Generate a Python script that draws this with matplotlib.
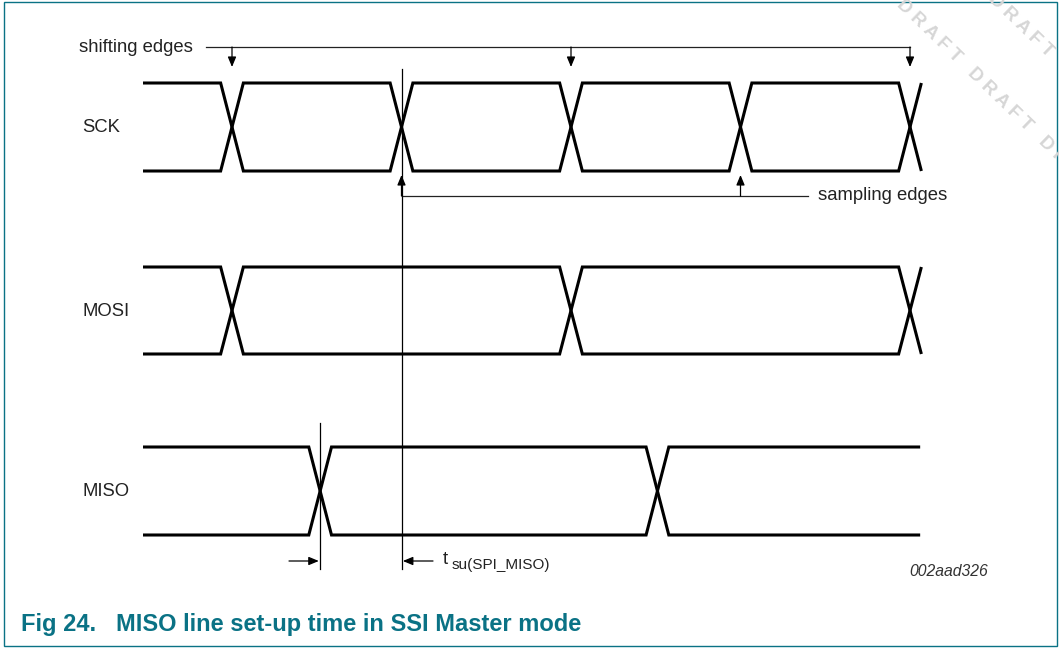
import numpy as np
import matplotlib.pyplot as plt
from matplotlib.patches import Rectangle

plt.rcParams['font.family'] = ['Liberation Sans', 'DejaVu Sans']

# time axis in SCK half-periods (edge 1 = first shifting edge)
sck_edges = [1, 2, 3, 4, 5]
mosi_edges = [1, 3, 5]
miso_edges = [1.52, 3.51]
shift_edges = [1, 3, 5]
sample_edges = [2, 4]
t_start = 0.475
miso_end = 5.06
t_setup = [1.52, 2.0]   # MISO valid -> sampling edge
signals = ['SCK', 'MOSI', 'MISO']

TEAL = '#0a7285'
HALF = 169.5      # pixels per half period
W = 0.067         # half width of a transition


def px2t(p):
    # pixel column -> time axis
    return 1 + (p - 232) / HALF


def bus(ax, edges, hi, lo, end):
    for lev in (hi, lo):
        xs, ys = [t_start], [lev]
        cur = lev
        for e in edges:
            nxt = lo if cur == hi else hi
            xs += [e - W, e + W]
            ys += [cur, nxt]
            cur = nxt
        if end > xs[-1]:
            xs.append(end)
            ys.append(cur)
        ax.plot(xs, ys, color='black', lw=2.2, solid_joinstyle='miter',
                solid_capstyle='butt')


def arrow(ax, tip, base):
    ax.annotate('', xy=tip, xytext=base,
                arrowprops=dict(arrowstyle='-|>,head_length=0.6,head_width=0.25',
                                color='black', lw=0.9, mutation_scale=10,
                                shrinkA=0, shrinkB=0))


fig = plt.figure(figsize=(10.59, 6.49), dpi=100)
ax = fig.add_axes([0, 0, 1, 1])
ax.set_xlim(px2t(0), px2t(1059))
ax.set_ylim(649, 0)
ax.axis('off')

# watermark
wm = 'D R A F T   D R A F T   D R A F T   D R A F T'
for x0, y0 in [(828, -66), (849, -140)]:
    ax.text(px2t(x0), y0, wm, rotation=-44, rotation_mode='anchor',
            ha='left', va='center', fontsize=13.5, fontweight='bold',
            color='#d6d6d6', clip_on=True)

# signals
levels = {'SCK': (83, 171), 'MOSI': (267, 354), 'MISO': (447, 535)}
bus(ax, sck_edges, *levels['SCK'], sck_edges[-1] + W)
bus(ax, mosi_edges, *levels['MOSI'], mosi_edges[-1] + W)
bus(ax, miso_edges, *levels['MISO'], miso_end)
for name in signals:
    hi, lo = levels[name]
    ax.text(px2t(82), (hi + lo) / 2 + 1, name, fontsize=13.3, color='#222222',
            ha='left', va='center')

# shifting edges
ax.plot([px2t(206), shift_edges[-1]], [47, 47], color='#222222', lw=0.9)
for e in shift_edges:
    arrow(ax, (e, 67), (e, 47))
ax.text(px2t(79), 47, 'shifting edges', fontsize=13.3, color='#222222',
        ha='left', va='center')

# sampling edges
ax.plot([sample_edges[0], px2t(808)], [196, 196], color='#222222', lw=0.9)
for e in sample_edges:
    arrow(ax, (e, 175), (e, 196))
ax.text(px2t(818), 196, 'sampling edges', fontsize=13.3, color='#222222',
        ha='left', va='center')

# set-up time markers
ax.plot([t_setup[1], t_setup[1]], [69, 569], color='black', lw=0.9)
ax.plot([t_setup[0], t_setup[0]], [423, 569], color='black', lw=0.9)
arrow(ax, (t_setup[0] - 0.008, 561), (px2t(289), 561))
arrow(ax, (t_setup[1] + 0.008, 561), (px2t(433), 561))
ax.text(px2t(443), 560, 't', fontsize=13.3, color='#222222', ha='left', va='center')
ax.text(px2t(452), 565, 'su(SPI_MISO)', fontsize=11, color='#222222',
        ha='left', va='center')

ax.text(px2t(909), 572, '002aad326', fontsize=11.3, style='italic',
        color='#333333', ha='left', va='center')

# caption and frame
ax.text(px2t(21), 624, 'Fig 24.   MISO line set-up time in SSI Master mode',
        fontsize=17, fontweight='bold', color=TEAL, ha='left', va='center')
ax.add_patch(Rectangle((px2t(4), 2), px2t(1057) - px2t(4), 644, fill=False,
                       edgecolor=TEAL, lw=1.0))

fig.savefig('out.png', dpi=100)
